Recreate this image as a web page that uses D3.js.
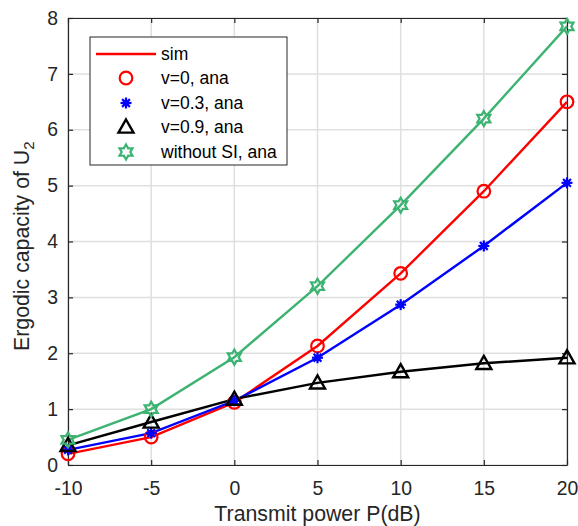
<!DOCTYPE html>
<html>
<head>
<meta charset="utf-8">
<script src="https://cdn.jsdelivr.net/npm/d3@7/dist/d3.min.js"></script>
<style>
  body { margin: 0; background: #fff; }
  svg { font-family: "Liberation Sans", Arial, sans-serif; }
</style>
</head>
<body>
<svg id="chart" width="578" height="526"></svg>
<script>
// ---- data ----
const powerDb = [-10, -5, 0, 5, 10, 15, 20];
const capV0 = [0.20, 0.50, 1.12, 2.13, 3.43, 4.90, 6.50];
const capV03 = [0.27, 0.57, 1.15, 1.92, 2.87, 3.92, 5.05];
const capV09 = [0.35, 0.77, 1.18, 1.47, 1.67, 1.82, 1.92];
const capNoSI = [0.45, 1.00, 1.93, 3.20, 4.65, 6.20, 7.85];
const xTicks = [-10, -5, 0, 5, 10, 15, 20];
const yTicks = [0, 1, 2, 3, 4, 5, 6, 7, 8];

const series = [
  { name: 'v=0, ana', values: capV0, color: '#ff0000', marker: 'circle' },
  { name: 'v=0.3, ana', values: capV03, color: '#0000ff', marker: 'asterisk' },
  { name: 'v=0.9, ana', values: capV09, color: '#000000', marker: 'triangle' },
  { name: 'without SI, ana', values: capNoSI, color: '#3cb371', marker: 'hexagram' },
];

const svg = d3.select('#chart');
const m = { left: 68, right: 11, top: 18, bottom: 61 };
const W = 578, H = 526;
const x = d3.scaleLinear().domain([-10, 20]).range([m.left, W - m.right]);
const y = d3.scaleLinear().domain([0, 8]).range([H - m.bottom, m.top]);
const axisCol = '#262626';
const tickFont = 19.4, labelFont = 21.3, legendFont = 17.5;

// grid
const grid = svg.append('g');
grid.selectAll('line.v').data(xTicks).join('line')
  .attr('x1', d => x(d)).attr('x2', d => x(d))
  .attr('y1', y(0)).attr('y2', y(8))
  .attr('stroke', '#dfdfdf').attr('stroke-width', 1.5);
grid.selectAll('line.h').data(yTicks).join('line')
  .attr('y1', d => y(d)).attr('y2', d => y(d))
  .attr('x1', x(-10)).attr('x2', x(20))
  .attr('stroke', '#dfdfdf').attr('stroke-width', 1.5);

// axes (ticks inside, plain hyphen for negatives)
const tickLen = 5;
const fmt = d => String(d);
const gx = svg.append('g').attr('transform', `translate(0,${y(0)})`)
  .call(d3.axisBottom(x).tickValues(xTicks).tickFormat(fmt).tickSizeInner(-tickLen).tickSizeOuter(0).tickPadding(16));
const gxTop = svg.append('g').attr('transform', `translate(0,${y(8)})`)
  .call(d3.axisTop(x).tickValues(xTicks).tickSizeInner(-tickLen).tickSizeOuter(0).tickFormat(''));
const gy = svg.append('g').attr('transform', `translate(${x(-10)},0)`)
  .call(d3.axisLeft(y).tickValues(yTicks).tickFormat(fmt).tickSizeInner(-tickLen).tickSizeOuter(0).tickPadding(10));
const gyR = svg.append('g').attr('transform', `translate(${x(20)},0)`)
  .call(d3.axisRight(y).tickValues(yTicks).tickSizeInner(-tickLen).tickSizeOuter(0).tickFormat(''));
[gx, gxTop, gy, gyR].forEach(g => {
  g.select('.domain').attr('stroke', axisCol).attr('stroke-width', 1.2);
  g.selectAll('.tick line').attr('stroke', axisCol).attr('stroke-width', 1.2);
  g.selectAll('.tick text').attr('fill', axisCol).attr('font-size', tickFont)
    .attr('font-family', '"Liberation Sans", Arial, sans-serif');
});

// axis labels
svg.append('text').attr('x', x(5)).attr('y', 521)
  .attr('text-anchor', 'middle').attr('font-size', labelFont).attr('fill', axisCol)
  .text('Transmit power P(dB)');
const yl = svg.append('text')
  .attr('transform', 'translate(29,351) rotate(-90)')
  .attr('text-anchor', 'start').attr('font-size', labelFont).attr('fill', axisCol);
yl.append('tspan').text('Ergodic capacity of U');
yl.append('tspan').attr('font-size', 15).attr('dy', 5).text('2');

// marker drawing
function drawMarker(g, type, color) {
  if (type === 'circle') {
    g.append('circle').attr('r', 6.3).attr('fill', 'none').attr('stroke', color).attr('stroke-width', 2.2);
  } else if (type === 'asterisk') {
    const r = 5.5;
    for (let i = 0; i < 4; i++) {
      const a = i * Math.PI / 4;
      g.append('line').attr('x1', -r * Math.cos(a)).attr('y1', -r * Math.sin(a))
        .attr('x2', r * Math.cos(a)).attr('y2', r * Math.sin(a))
        .attr('stroke', color).attr('stroke-width', 2.2);
    }
    g.append('circle').attr('r', 3.2).attr('fill', color);
  } else if (type === 'triangle') {
    const s = 7.5;
    g.append('path').attr('d', `M0,${-s}L${s},${s * 0.75}L${-s},${s * 0.75}Z`)
      .attr('fill', 'none').attr('stroke', color).attr('stroke-width', 2.4)
      .attr('stroke-linejoin', 'miter');
  } else if (type === 'hexagram') {
    const R = 7.5, r = 4.3;
    const pts = d3.range(12).map(i => {
      const a = -Math.PI / 2 + i * Math.PI / 6;
      const rad = i % 2 === 0 ? R : r;
      return [rad * Math.cos(a), rad * Math.sin(a)];
    });
    g.append('path').attr('d', 'M' + pts.join('L') + 'Z')
      .attr('fill', 'none').attr('stroke', color).attr('stroke-width', 2.2);
  }
}

// lines and markers
const line = d3.line().x((d, i) => x(powerDb[i])).y(d => y(d));
series.forEach(s => {
  svg.append('path').datum(s.values).attr('d', line)
    .attr('fill', 'none').attr('stroke', s.color).attr('stroke-width', 2.4);
});
series.forEach(s => {
  svg.append('g').selectAll('g').data(s.values).join('g')
    .attr('transform', (d, i) => `translate(${x(powerDb[i])},${y(d)})`)
    .each(function () { drawMarker(d3.select(this), s.marker, s.color); });
});

// legend
const lg = svg.append('g');
lg.append('rect').attr('x', 90).attr('y', 37).attr('width', 197).attr('height', 128)
  .attr('fill', '#fff').attr('stroke', axisCol).attr('stroke-width', 1);
const rowY = [54, 78, 103, 127, 152];
lg.append('line').attr('x1', 96).attr('x2', 156).attr('y1', rowY[0]).attr('y2', rowY[0])
  .attr('stroke', '#ff0000').attr('stroke-width', 2.4);
lg.append('text').attr('x', 161).attr('y', rowY[0] + 6).attr('font-size', legendFont).attr('fill', '#000').text('sim');
series.forEach((s, i) => {
  const g = lg.append('g').attr('transform', `translate(126,${rowY[i + 1]})`);
  drawMarker(g, s.marker, s.color);
  lg.append('text').attr('x', 161).attr('y', rowY[i + 1] + 6).attr('font-size', legendFont)
    .attr('fill', '#000').text(s.name);
});
</script>
</body>
</html>
